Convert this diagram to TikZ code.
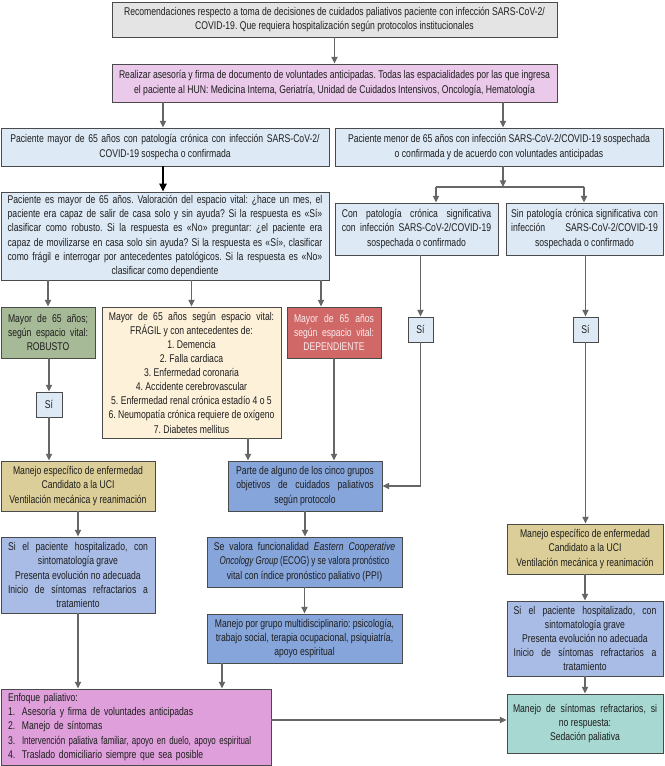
\documentclass[tikz,border=0pt]{standalone}
\usepackage{fontspec}
\usepackage{graphicx}
\setmainfont{Liberation Sans}[FakeStretch=0.77]
\usetikzlibrary{arrows.meta,calc}
\definecolor{cgray}{HTML}{E4E4E4}
\definecolor{cpink}{HTML}{EAC9EA}
\definecolor{clblue}{HTML}{DDE9F5}
\definecolor{cgreen}{HTML}{A7BA97}
\definecolor{ccream}{HTML}{FDF1DA}
\definecolor{cred}{HTML}{D06868}
\definecolor{ctan}{HTML}{DCCE98}
\definecolor{cmblue}{HTML}{86A5DA}
\definecolor{cpblue}{HTML}{A8BCE6}
\definecolor{cenf}{HTML}{DE9FDA}
\definecolor{cteal}{HTML}{A8D8D2}
\definecolor{cborder}{HTML}{4A4A4A}
\definecolor{carrow}{HTML}{666666}
\definecolor{ctext}{HTML}{1E1E1E}
\definecolor{credtext}{HTML}{FBECEC}
\newcommand\jl[2][\hsize]{\makebox[#1][s]{#2}}
\newcommand\itm[2]{\mbox{\makebox[10.5pt][l]{#1}#2}}
\frenchspacing
\begin{document}
\frenchspacing
\begin{tikzpicture}[x=0.75pt,y=-0.75pt,
  font=\fontsize{8.4}{10.6}\selectfont,
  bx/.style={draw=cborder, line width=0.7pt, inner sep=0pt, align=center, text=ctext},
  rc/.style n args={4}{minimum width={(#3-#1)*0.75pt}, minimum height={(#4-#2)*0.75pt}, at={({(#1+#3)/2},{(#2+#4)/2})}},
  arr/.style={draw=carrow, line width=1.1pt, -{Triangle[length=5pt,width=4.6pt]}},
  ln/.style={draw=carrow, line width=1.1pt},
  boldarr/.style={draw=black, line width=1.5pt, -{Triangle[length=6pt,width=5.5pt]}}]
\fill[white] (0,0) rectangle (664,766);
\useasboundingbox (0,0) rectangle (664,766);

\node (b1) [bx, fill=cgray, rc={112}{2}{557}{37}] {Recomendaciones respecto a toma de decisiones de cuidados paliativos paciente con infección SARS-CoV-2/\\COVID-19. Que requiera hospitalización según protocolos institucionales};
\node (b2) [bx, fill=cpink, rc={112}{64}{557}{102}] {Realizar asesoría y firma de documento de voluntades anticipadas. Todas las espacialidades por las que ingresa\\el paciente al HUN: Medicina Interna, Geriatría, Unidad de Cuidados Intensivos, Oncología, Hematología};
\node (b3) [bx, fill=clblue, rc={1}{128}{329}{166}] {\jl[232pt]{Paciente mayor de 65 años con patología crónica con infección SARS-CoV-2/}\\COVID-19 sospecha o confirmada};
\node (b4) [bx, fill=clblue, rc={335}{128}{663}{166}] {Paciente menor de 65 años con infección SARS-CoV-2/COVID-19 sospechada\\o confirmada y de acuerdo con voluntades anticipadas};
\node (b5) [bx, fill=clblue, rc={1}{192}{329}{280}] {\jl[236pt]{Paciente es mayor de 65 años. Valoración del espacio vital: ¿hace un mes, el}\\\jl[236pt]{paciente era capaz de salir de casa solo y sin ayuda? Si la respuesta es «Sí»}\\\jl[236pt]{clasificar como robusto. Si la respuesta es «No» preguntar: ¿el paciente era}\\\jl[236pt]{capaz de movilizarse en casa solo sin ayuda? Si la respuesta es «Sí», clasificar}\\\jl[236pt]{como frágil e interrogar por antecedentes patológicos. Si la respuesta es «No»}\\clasificar como dependiente};
\node (b6) [bx, fill=clblue, rc={335}{203}{498}{255}] {\jl[112pt]{Con patología crónica significativa}\\\jl[112pt]{con infección SARS-CoV-2/COVID-19}\\sospechada o confirmado};
\node (b7) [bx, fill=clblue, rc={506}{203}{663}{255}] {\jl[110pt]{Sin patología crónica significativa con}\\\jl[110pt]{infección SARS-CoV-2/COVID-19}\\sospechada o confirmado};
\node (b8) [bx, fill=cgreen, rc={1}{307}{95}{358}] {\jl[60pt]{Mayor de 65 años;}\\\jl[60pt]{según espacio vital:}\\ROBUSTO};
\node (b9) [bx, fill=ccream, rc={102}{307}{281}{438}] {\jl[124pt]{Mayor de 65 años según espacio vital:}\\FRÁGIL y con antecedentes de:\\1. Demencia\\2. Falla cardiaca\\3. Enfermedad coronaria\\4. Accidente cerebrovascular\\5. Enfermedad renal crónica estadío 4 o 5\\6. Neumopatía crónica requiere de oxígeno\\7. Diabetes mellitus};
\node (b10) [bx, fill=cred, text=credtext, rc={287}{307}{381}{358}] {\jl[60pt]{Mayor de 65 años}\\\jl[60pt]{según espacio vital:}\\DEPENDIENTE};
\node (sil) [bx, fill=clblue, rc={36}{392}{62}{417}] {Sí};
\node (sim) [bx, fill=clblue, rc={408}{317}{433}{342}] {Sí};
\node (sir) [bx, fill=clblue, rc={573}{317}{598}{342}] {Sí};
\node (b11) [bx, fill=ctan, rc={1}{461}{155}{511}] {Manejo específico de enfermedad\\Candidato a la UCI\\Ventilación mecánica y reanimación};
\node (b12) [bx, fill=cmblue, rc={228}{461}{382}{511}] {Parte de alguno de los cinco grupos\\\jl[103pt]{objetivos de cuidados paliativos}\\según protocolo};
\node (b13) [bx, fill=cmblue, rc={207}{537}{402}{587}] {\jl[136pt]{Se valora funcionalidad \textit{Eastern Cooperative}}\\\makebox[136pt]{\scalebox{0.93}[1]{\textit{Oncology Group} (ECOG) y se valora pronóstico}}\\vital con índice pronóstico paliativo (PPI)};
\node (b14) [bx, fill=cmblue, rc={207}{614}{402}{663}] {Manejo por grupo multidisciplinario: psicología,\\trabajo social, terapia ocupacional, psiquiatría,\\apoyo espiritual};
\node (b15) [bx, fill=cpblue, rc={1}{537}{155}{613}] {\jl[105pt]{Si el paciente hospitalizado, con}\\sintomatología grave\\Presenta evolución no adecuada\\\jl[105pt]{Inicio de síntomas refractarios a}\\tratamiento};
\node (b18) [bx, fill=ctan, rc={507}{524}{663}{574}] {Manejo específico de enfermedad\\Candidato a la UCI\\Ventilación mecánica y reanimación};
\node (b19) [bx, fill=cpblue, rc={507}{601}{663}{676}] {\jl[107pt]{Si el paciente hospitalizado, con}\\sintomatología grave\\Presenta evolución no adecuada\\\jl[107pt]{Inicio de síntomas refractarios a}\\tratamiento};
\node (b16) [bx, fill=cenf, align=left, text width=192pt, rc={1}{689}{271}{765}] {\mbox{Enfoque paliativo:}\\\itm{1.}{Asesoría y firma de voluntades anticipadas}\\\itm{2.}{Manejo de síntomas}\\\itm{3.}{\scalebox{0.92}[1]{Intervención paliativa familiar, apoyo en duelo, apoyo espiritual}}\\\itm{4.}{Traslado domiciliario siempre que sea posible}};
\node (b17) [bx, fill=cteal, rc={507}{694}{663}{753}] {\jl[108pt]{Manejo de síntomas refractarios, si}\\no respuesta:\\Sedación paliativa};

\coordinate (xL) at (163,0);
\coordinate (xR) at (503,0);
\coordinate (sp) at (503,187);
\coordinate (xa) at (436,0);
\coordinate (xb) at (584,0);
\coordinate (xd) at (321,0);
\coordinate (xf) at (248,0);
\coordinate (xg) at (222,0);
\coordinate (yh) at (0,720);

\draw[arr] (b1.south) -- (b2.north);
\draw[arr] (b2.south -| xL) -- (b3.north -| xL);
\draw[arr] (b2.south -| xR) -- (b4.north -| xR);
\draw[boldarr] (b3.south -| xL) -- (b5.north -| xL);
\draw[arr] (b4.south -| sp) -- (sp);
\draw[ln] (sp -| xa) -- (sp -| xb);
\draw[arr] (sp -| xa) -- (b6.north -| xa);
\draw[arr] (sp -| xb) -- (b7.north -| xb);
\draw[arr] (b5.south -| b8.north) -- (b8.north);
\draw[arr] (b5.south -| b9.north) -- (b9.north);
\draw[arr] (b5.south -| xd) -- (b10.north -| xd);
\draw[arr] (b8.south -| sil.north) -- (sil.north);
\draw[arr] (sil.south) -- (sil.south |- b11.north);
\draw[arr] (sim.north |- b6.south) -- (sim.north);
\draw[arr] (sir.north |- b7.south) -- (sir.north);
\draw[arr] (b9.south -| xf) -- (b12.north -| xf);
\draw[arr] (b10.south) -- (b10.south |- b12.north);
\draw[arr] (sim.south) |- (b12.east);
\draw[arr] (sir.south) -- (sir.south |- b18.north);
\draw[arr] (b12.south) -- (b12.south |- b13.north);
\draw[arr] (b13.south) -- (b13.south |- b14.north);
\draw[arr] (b11.south) -- (b11.south |- b15.north);
\draw[arr] (b18.south) -- (b19.north);
\draw[arr] (b19.south) -- (b17.north);
\draw[arr] (b15.south) -- (b15.south |- b16.north);
\draw[arr] (b14.south -| xg) -- (b16.north -| xg);
\draw[arr] (b16.east |- yh) -- (b17.west |- yh);
\end{tikzpicture}
\end{document}
